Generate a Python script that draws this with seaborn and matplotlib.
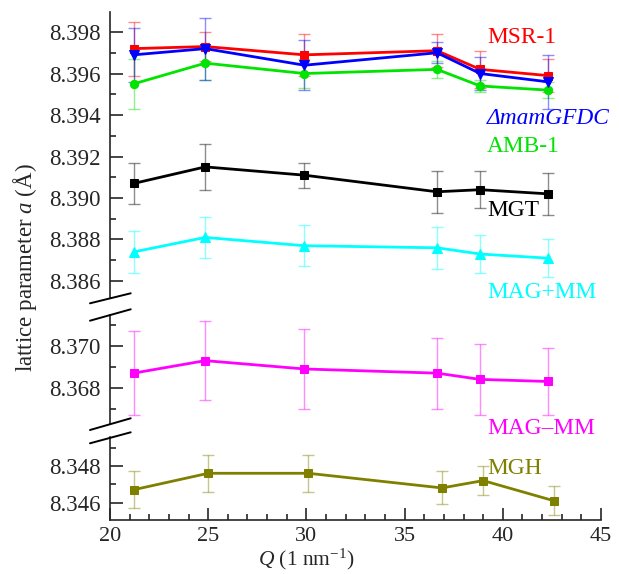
import matplotlib
matplotlib.use("Agg")
import matplotlib.pyplot as plt
from matplotlib.lines import Line2D
from matplotlib.ticker import MultipleLocator, FormatStrFormatter
import numpy as np
import pandas as pd
import seaborn as sns

# data
q = [21.2, 24.85, 29.9, 36.65, 38.85, 42.3]
q_mgh = [21.2, 25.0, 30.1, 36.9, 39.0, 42.6]

msr1 = [8.3972, 8.3973, 8.3969, 8.3971, 8.3962, 8.3959]
msr1_err = [0.0013, 0.0007, 0.0010, 0.0008, 0.0009, 0.0008]
mamgfdc = [8.3969, 8.3972, 8.3964, 8.3970, 8.3960, 8.3956]
mamgfdc_err = [0.0013, 0.0015, 0.0012, 0.0005, 0.0008, 0.0013]
amb1 = [8.3955, 8.3965, 8.3960, 8.3962, 8.3954, 8.3952]
amb1_err = [0.0012, 0.0008, 0.0007, 0.0004, 0.0003, 0.0004]
mgt = [8.3907, 8.3915, 8.3911, 8.3903, 8.3904, 8.3902]
mgt_err = [0.0010, 0.0011, 0.0006, 0.0010, 0.0009, 0.0010]
mag_pmm = [8.3874, 8.3881, 8.3877, 8.3876, 8.3873, 8.3871]
mag_pmm_err = [0.0010, 0.0010, 0.0010, 0.0010, 0.0009, 0.0009]
mag_mmm = [8.3687, 8.3693, 8.3689, 8.3687, 8.3684, 8.3683]
mag_mmm_err = [0.0020, 0.0019, 0.0019, 0.0017, 0.0017, 0.0016]
mgh = [8.3467, 8.3476, 8.3476, 8.3468, 8.3472, 8.3461]
mgh_err = [0.0010, 0.0010, 0.0010, 0.0009, 0.0008, 0.0008]

labels = ["MSR-1", "ΔmamGFDC", "AMB-1", "MGT", "MAG+MM", "MAG–MM", "MGH"]

sns.set_style("ticks")
plt.rcParams["font.family"] = ["Liberation Serif", "DejaVu Serif"]
plt.rcParams["mathtext.fontset"] = "custom"
plt.rcParams["mathtext.rm"] = "Liberation Serif"
plt.rcParams["mathtext.it"] = "Liberation Serif:italic"

W, H = 619, 574
fig = plt.figure(figsize=(W / 100, H / 100), dpi=100)

def px_axes(top, bottom, left=110, right=601):
    return fig.add_axes([left / W, 1 - bottom / H, (right - left) / W, (bottom - top) / H])

ax_top = px_axes(11.7, 298)
ax_mid = px_axes(315, 424)
ax_bot = px_axes(437, 520)

ax_top.set_ylim(8.38518, 8.39898)
ax_mid.set_ylim(8.36626, 8.37149)
ax_bot.set_ylim(8.34505, 8.34958)

series = [
    (ax_top, q, msr1, msr1_err, "#ff0000", "s", 5.5),
    (ax_top, q, amb1, amb1_err, "#00e400", "o", 6),
    (ax_top, q, mamgfdc, mamgfdc_err, "#0000ff", "v", 6.5),
    (ax_top, q, mgt, mgt_err, "#000000", "s", 5.5),
    (ax_top, q, mag_pmm, mag_pmm_err, "#00ffff", "^", 6.5),
    (ax_mid, q, mag_mmm, mag_mmm_err, "#ff00ff", "s", 5.5),
    (ax_bot, q_mgh, mgh, mgh_err, "#808000", "s", 5.5),
]

for ax, xs, ys, err, col, mk, ms in series:
    ax.errorbar(xs, ys, yerr=err, fmt="none", ecolor=col, alpha=0.45,
                elinewidth=1.0, capsize=4, capthick=1.0, zorder=2)
    df = pd.DataFrame({"Q": xs, "a": ys})
    sns.lineplot(data=df, x="Q", y="a", ax=ax, color=col, marker=mk,
                 markersize=ms, markeredgecolor=col, linewidth=2.0, zorder=3)

for ax in (ax_top, ax_mid, ax_bot):
    ax.set_xlim(20, 45)
    ax.set_xlabel("")
    ax.set_ylabel("")
    ax.patch.set_alpha(0)
    for s in ("top", "right"):
        ax.spines[s].set_visible(False)
    ax.spines["left"].set_linewidth(1.2)
    ax.yaxis.set_major_locator(MultipleLocator(0.002))
    ax.yaxis.set_minor_locator(MultipleLocator(0.001))
    ax.yaxis.set_major_formatter(FormatStrFormatter("%.3f"))
    ax.tick_params(axis="y", which="major", direction="in", length=9, width=1.2,
                   labelsize=16.5, pad=7)
    ax.tick_params(axis="y", which="minor", direction="in", length=4.5, width=1.2)

for ax in (ax_top, ax_mid):
    ax.spines["bottom"].set_visible(False)
    ax.tick_params(axis="x", which="both", bottom=False, labelbottom=False)

ax_bot.spines["bottom"].set_linewidth(1.2)
ax_bot.xaxis.set_major_locator(MultipleLocator(5))
ax_bot.xaxis.set_minor_locator(MultipleLocator(1))
ax_bot.tick_params(axis="x", which="major", direction="in", length=9, width=1.2,
                   labelsize=16, pad=5)
ax_bot.tick_params(axis="x", which="minor", direction="in", length=4.5, width=1.2)

# axis break marks
for (x0, y0, x1, y1) in [(90, 303.3, 130.7, 293.3), (90, 320.7, 130.7, 309.3),
                         (90, 430, 130.7, 418.3), (90, 443.3, 130.7, 432.3)]:
    fig.add_artist(Line2D([x0 / W, x1 / W], [1 - y0 / H, 1 - y1 / H],
                          color="black", lw=1.4))

# series labels
label_pos = [(37.5, "#ff0000"), (119, "#0000ff"), (146, "#00e400"), (211, "#000000"),
             (292, "#00ffff"), (429, "#ff00ff"), (468, "#808000")]
for lab, (yp, col) in zip(labels, label_pos):
    style = "italic" if lab.startswith("Δ") else "normal"
    fig.text(487 / W, 1 - yp / H, lab, color=col, fontsize=16.8,
             ha="left", va="center", fontstyle=style)

fig.text(25 / W, 1 - 268 / H, r"lattice parameter $a$ (Å)", rotation=90,
         ha="center", va="center", fontsize=16.5)
fig.text(306 / W, 2 / H, r"$Q$ (1 nm$^{-1}$)", ha="center", va="bottom",
         fontsize=15.5)

fig.savefig("out.png", dpi=100)
